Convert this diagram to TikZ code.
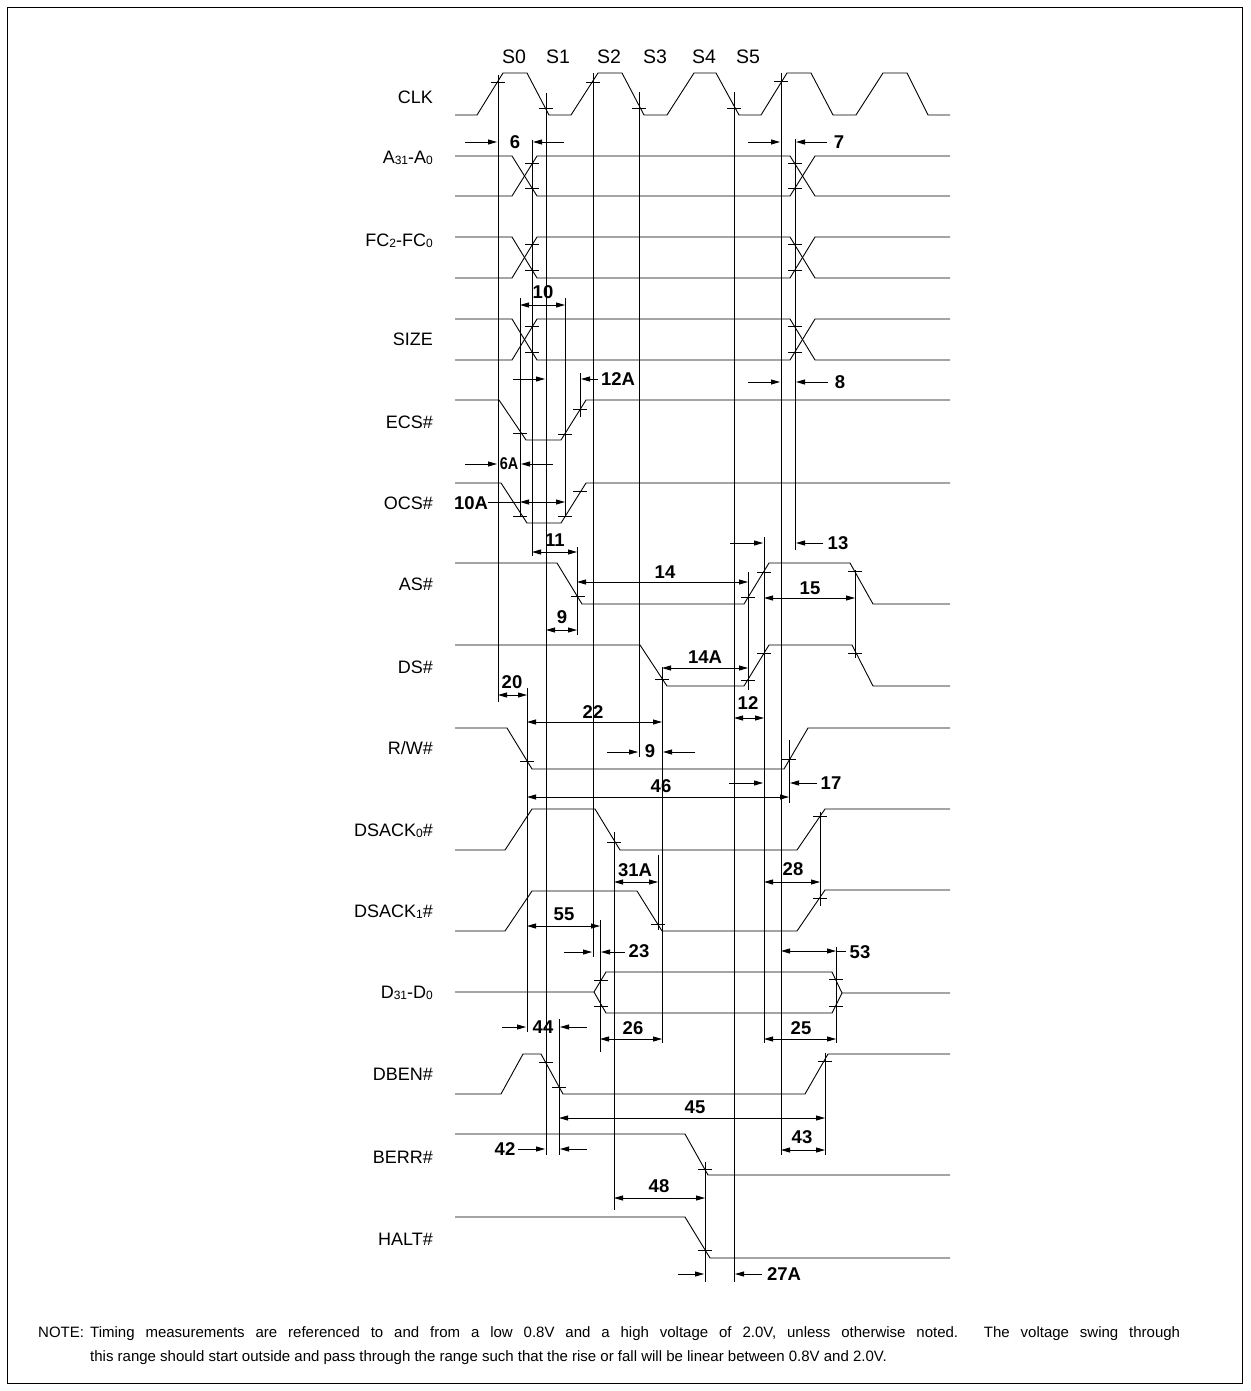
\documentclass[tikz,border=0pt]{standalone}
\usepackage{fontspec}
\setmainfont{Liberation Sans}
\usetikzlibrary{arrows.meta}
\newcommand\sub[1]{\raisebox{-1pt}{\fontsize{12}{12}\selectfont #1}}
\newcommand\tk[2]{\draw[tickst] ({#1-7},#2) -- ({#1+7},#2);}
\newcommand\vl[3]{\draw[refl] (#1,#2) -- (#1,#3);}
\newcommand\notetwo{this range should start outside and pass through the range such that the rise or fall will be linear between 0.8V and 2.0V.}
\newcommand\noteone{Timing measurements are referenced to and from a low 0.8V and a high voltage of 2.0V, unless otherwise noted. The voltage swing through}
\newcommand\nfont{\fontsize{15}{17}\selectfont}
\begin{document}
\begin{tikzpicture}[x=1pt,y=-1pt,
  >={Triangle[length=9pt,width=5pt]},
  wave/.style={line width=0.9pt, line join=miter},
  refl/.style={line width=0.8pt},
  tickst/.style={line width=0.8pt},
  dim/.style={line width=0.8pt},
  siglbl/.style={anchor=east, inner sep=0pt, font=\fontsize{18}{20}\selectfont},
  dimlbl/.style={inner sep=0pt, font=\fontsize{18.5}{20}\selectfont\bfseries},
  slbl/.style={inner sep=0pt, font=\fontsize{19.5}{21}\selectfont},
  notest/.style={inner sep=0pt, anchor=base west, font=\nfont},
]
\useasboundingbox (0,0) rectangle (1250,1391);
\draw[line width=0.8pt] (7.5,7.5) rectangle (1242.5,1383.5);

% state labels
\node[slbl] (S0) at (514,57) {S0};
\node[slbl] (S1) at (558,57) {S1};
\node[slbl] (S2) at (609,57) {S2};
\node[slbl] (S3) at (655,57) {S3};
\node[slbl] (S4) at (704,57) {S4};
\node[slbl] (S5) at (748,57) {S5};

% signal labels
\node[siglbl] (sCLK) at (433,97) {CLK};
\node[siglbl] (sA) at (433,158) {A\sub{31}-A\sub{0}};
\node[siglbl] (sFC) at (433,241) {FC\sub{2}-FC\sub{0}};
\node[siglbl] (sSIZE) at (433,339) {SIZE};
\node[siglbl] (sECS) at (433,422) {ECS\#};
\node[siglbl] (sOCS) at (433,503) {OCS\#};
\node[siglbl] (sAS) at (433,584) {AS\#};
\node[siglbl] (sDS) at (433,667) {DS\#};
\node[siglbl] (sRW) at (433,748) {R/W\#};
\node[siglbl] (sDK0) at (433,831) {DSACK\sub{0}\#};
\node[siglbl] (sDK1) at (433,912) {DSACK\sub{1}\#};
\node[siglbl] (sD) at (433,993) {D\sub{31}-D\sub{0}};
\node[siglbl] (sDBEN) at (433,1074) {DBEN\#};
\node[siglbl] (sBERR) at (433,1157) {BERR\#};
\node[siglbl] (sHALT) at (433,1239) {HALT\#};

% waveforms
\draw[wave] (455,115) -- (477,115) -- (503,73) -- (527,73) -- (549,115) -- (571,115) -- (598,73) -- (622,73) -- (644,115) -- (667,115) -- (694,73) -- (716,73) -- (739,115) -- (761,115) -- (787,73) -- (811,73) -- (833,115) -- (856,115) -- (883,73) -- (907,73) -- (928,115) -- (950,115);
\tk{498}{82}\tk{546}{108}\tk{593}{82}\tk{639}{108}\tk{734}{108}\tk{781}{81}

\foreach \t/\b in {156/196, 237/278, 319/360}{
  \draw[wave] (455,\t) -- (512,\t) -- (537,\b) -- (790,\b) -- (815,\t) -- (950,\t);
  \draw[wave] (455,\b) -- (512,\b) -- (537,\t) -- (790,\t) -- (815,\b) -- (950,\b);
  \tk{532}{\t+7.5}\tk{532}{\b-7.5}\tk{795}{\t+7.5}\tk{795}{\b-7.5}
}

% ECS#
\draw[wave] (455,400) -- (499,400) -- (526,440) -- (561,440) -- (586,400) -- (950,400);
\tk{520}{433}\tk{565}{434}\tk{580}{409}
% OCS#
\draw[wave] (455,483) -- (501,483) -- (527,523) -- (561,523) -- (586,483) -- (950,483);
\tk{520}{516}\tk{565}{516}\tk{580}{491}
% AS#
\draw[wave] (455,563) -- (557,563) -- (582,604) -- (744,604) -- (769,563) -- (850,563) -- (873,604) -- (950,604);
\tk{578}{596}\tk{748}{597}\tk{764}{572}\tk{855}{571}
% DS#
\draw[wave] (455,645) -- (640,645) -- (667,686) -- (744,686) -- (769,645) -- (852,645) -- (873,686) -- (950,686);
\tk{662}{679}\tk{748}{680}\tk{764}{653}\tk{855}{653}
% R/W#
\draw[wave] (455,728) -- (507,728) -- (532,769) -- (784,769) -- (808,728) -- (950,728);
\tk{527}{761}\tk{789}{759}
% DSACK0#
\draw[wave] (455,850) -- (505,850) -- (532,809) -- (595,809) -- (620,850) -- (797,850) -- (825,809) -- (950,809);
\tk{614}{842}\tk{820}{816}
% DSACK1#
\draw[wave] (455,931) -- (505,931) -- (532,891) -- (637,891) -- (662,931) -- (797,931) -- (825,890) -- (950,890);
\tk{658}{924}\tk{820}{898}
% D31-D0
\draw[wave] (455,992) -- (594,992) -- (606,972) -- (832,972) -- (842,993) -- (950,993);
\draw[wave] (594,992) -- (606,1013) -- (832,1013) -- (842,993);
\tk{601}{980}\tk{601}{1006}\tk{836}{979}\tk{836}{1006}
% DBEN#
\draw[wave] (455,1094) -- (501,1094) -- (523,1054) -- (541,1054) -- (563,1094) -- (805,1094) -- (828,1054) -- (950,1054);
\tk{546}{1062}\tk{559}{1087}\tk{825}{1061}
% BERR#
\draw[wave] (455,1134) -- (685,1134) -- (708,1175) -- (950,1175);
\tk{705}{1169}
% HALT#
\draw[wave] (455,1217) -- (685,1217) -- (710,1258) -- (950,1258);
\tk{705}{1250}

% reference lines
\vl{498}{75}{702}
\vl{520}{298}{517}
\vl{527}{688}{1032}
\vl{532}{140}{556}
\vl{546}{93}{1155}
\vl{559}{1019}{1155}
\vl{565}{298}{517}
\vl{577}{547}{635}
\vl{580}{373}{417}
\vl{593}{73}{957}
\vl{600}{920}{1052}
\vl{614}{832}{1210}
\vl{639}{92}{757}
\vl{658}{855}{930}
\vl{662}{667}{1043}
\vl{705}{1162}{1282}
\vl{734}{92}{1282}
\vl{748}{572}{690}
\vl{764}{537}{1043}
\vl{781}{73}{1155}
\vl{789}{740}{803}
\vl{795}{139}{550}
\vl{820}{812}{906}
\vl{825}{1053}{1155}
\vl{836}{947}{1043}
\vl{855}{570}{658}

% dimensions
% 6
\draw[dim,->] (465,142) -- (497,142);
\draw[dim,->] (564,142) -- (533,142);
\node[dimlbl] (d6) at (515,142) {6};
% 7
\draw[dim,->] (748,142) -- (780,142);
\draw[dim,->] (827,142) -- (796,142);
\node[dimlbl] (d7) at (839,142) {7};
% 10
\draw[dim,<->] (520,305) -- (565,305);
\node[dimlbl] (d10) at (543,292) {10};
% 12A
\draw[dim,->] (513,379) -- (545,379);
\draw[dim,->] (598,379) -- (581,379);
\node[dimlbl] (d12A) at (618,379) {12A};
% 8
\draw[dim,->] (748,382) -- (780,382);
\draw[dim,->] (828,382) -- (796,382);
\node[dimlbl] (d8) at (840,382) {8};
% 6A
\draw[dim,->] (465,464) -- (497,464);
\draw[dim,->] (553,464) -- (521,464);
\node[dimlbl, xscale=0.85, font=\fontsize{17}{18}\selectfont\bfseries] (d6A) at (509,464) {6A};
% 10A
\node[dimlbl] (d10A) at (471,503) {10A};
\draw[dim] (488,502) -- (520,502);
\draw[dim,<->] (520,502) -- (565,502);
% 11
\draw[dim,<->] (532,552) -- (577,552);
\node[dimlbl] (d11) at (555,540) {11};
% 13
\draw[dim,->] (730,543) -- (763,543);
\draw[dim,->] (823,543) -- (796,543);
\node[dimlbl] (d13) at (838,543) {13};
% 14
\draw[dim,<->] (577,582) -- (748,582);
\node[dimlbl] (d14) at (665,572) {14};
% 15
\draw[dim,<->] (764,598) -- (855,598);
\node[dimlbl] (d15) at (810,588) {15};
% 9
\draw[dim,<->] (546,630) -- (577,630);
\node[dimlbl] (d9a) at (562,617) {9};
% 14A
\draw[dim,<->] (662,668) -- (748,668);
\node[dimlbl] (d14A) at (705,657) {14A};
% 20
\draw[dim,<->] (498,695) -- (527,695);
\node[dimlbl] (d20) at (512,682) {20};
% 12
\draw[dim,<->] (734,718) -- (764,718);
\node[dimlbl] (d12) at (748,703) {12};
% 22
\draw[dim,<->] (527,722) -- (662,722);
\node[dimlbl] (d22) at (593,712) {22};
% 9 (second)
\draw[dim,->] (607,752) -- (638,752);
\draw[dim,->] (695,752) -- (663,752);
\node[dimlbl] (d9b) at (650,751) {9};
% 17
\draw[dim,->] (729,783) -- (763,783);
\draw[dim,->] (817,783) -- (790,783);
\node[dimlbl] (d17) at (831,783) {17};
% 46
\draw[dim,<->] (527,797) -- (789,797);
\node[dimlbl] (d46) at (661,786) {46};
% 31A
\draw[dim,<->] (614,882) -- (658,882);
\node[dimlbl] (d31A) at (635,870) {31A};
% 28
\draw[dim,<->] (764,882) -- (820,882);
\node[dimlbl] (d28) at (793,869) {28};
% 55
\draw[dim,<->] (527,926) -- (600,926);
\node[dimlbl] (d55) at (564,914) {55};
% 23
\draw[dim,->] (564,952) -- (592,952);
\draw[dim,->] (625,952) -- (601,952);
\node[dimlbl] (d23) at (639,951) {23};
% 53
\draw[dim,<->] (781,951) -- (836,951);
\draw[dim] (836,951) -- (846,951);
\node[dimlbl] (d53) at (860,952) {53};
% 44
\draw[dim,->] (502,1027) -- (526,1027);
\draw[dim,->] (587,1027) -- (560,1027);
\node[dimlbl] (d44) at (543,1027) {44};
% 26
\draw[dim,<->] (600,1039) -- (662,1039);
\node[dimlbl] (d26) at (633,1028) {26};
% 25
\draw[dim,<->] (764,1039) -- (836,1039);
\node[dimlbl] (d25) at (801,1028) {25};
% 45
\draw[dim,<->] (559,1118) -- (825,1118);
\node[dimlbl] (d45) at (695,1107) {45};
% 42
\node[dimlbl] (d42) at (505,1149) {42};
\draw[dim,->] (518,1149) -- (545,1149);
\draw[dim,->] (587,1149) -- (560,1149);
% 43
\draw[dim,<->] (781,1150) -- (825,1150);
\node[dimlbl] (d43) at (802,1137) {43};
% 48
\draw[dim,<->] (614,1198) -- (705,1198);
\node[dimlbl] (d48) at (659,1186) {48};
% 27A
\draw[dim,->] (678,1274) -- (704,1274);
\draw[dim,->] (762,1274) -- (735,1274);
\node[dimlbl] (d27A) at (784,1274) {27A};

% note
\node[notest] (note0) at (38,1337) {NOTE:};
\node[notest] (note1) at (90,1337) {\makebox[1090pt][s]{\noteone}};
\node[notest] (note2) at (90,1361) {\notetwo};
\end{tikzpicture}
\end{document}
